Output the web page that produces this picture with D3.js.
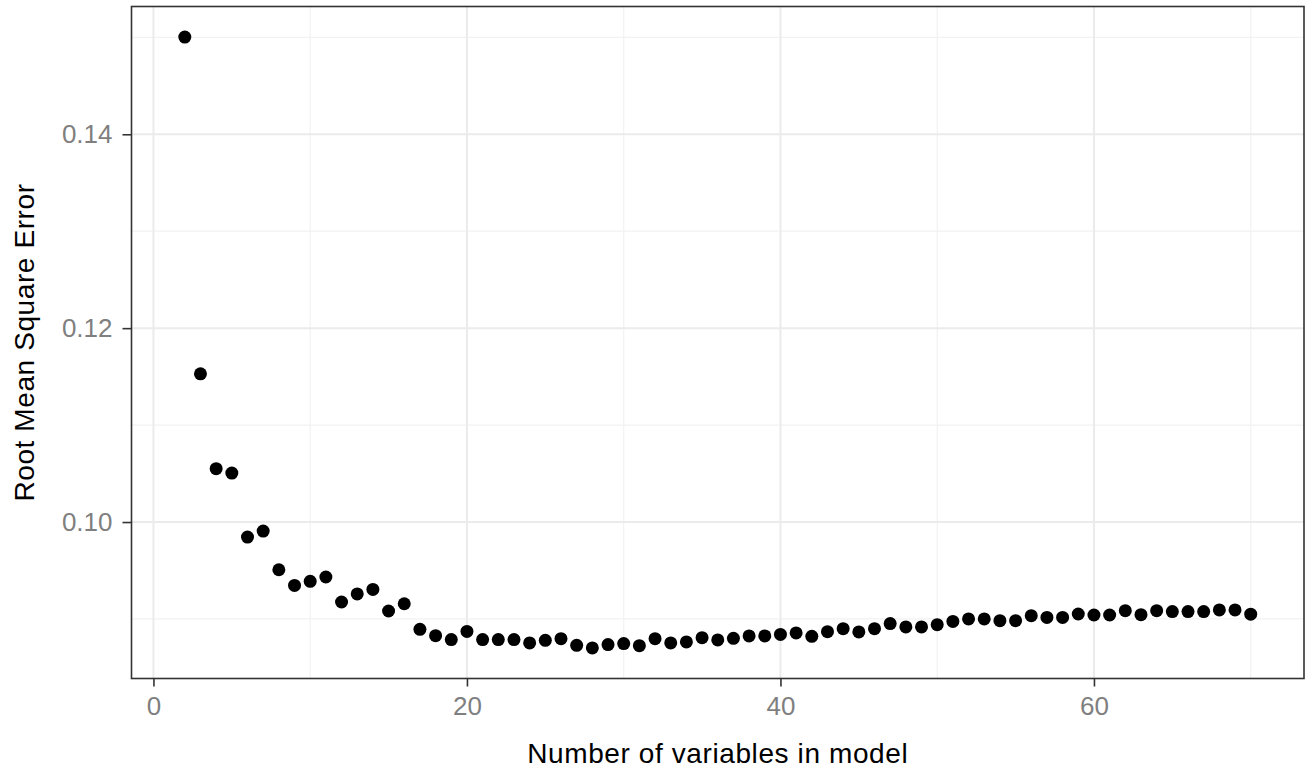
<!DOCTYPE html>
<html>
<head>
<meta charset="utf-8">
<script src="https://cdn.jsdelivr.net/npm/d3@7"></script>
<style>
  html, body { margin: 0; padding: 0; background: #fff; }
  svg { display: block; font-family: "Liberation Sans", Arial, sans-serif; }
</style>
</head>
<body>
<svg id="chart" width="1305" height="771"></svg>
<script>
// ---- data ----
const nVars = [2,3,4,5,6,7,8,9,10,11,12,13,14,15,16,17,18,19,20,21,22,23,24,25,26,27,28,29,30,31,32,33,34,35,36,37,38,39,40,41,42,43,44,45,46,47,48,49,50,51,52,53,54,55,56,57,58,59,60,61,62,63,64,65,66,67,68,69,70];
const rmse = [0.15003,0.11529,0.1055,0.10505,0.09845,0.09907,0.09508,0.09346,0.09388,0.09433,
  0.09175,0.09258,0.09305,0.09082,0.09157,0.08893,0.08828,0.08787,0.08872,0.08787,
  0.08787,0.08787,0.08753,0.0878,0.08797,0.08728,0.08701,0.08736,0.08746,0.08725,
  0.08797,0.08753,0.08763,0.08807,0.08784,0.088,0.08825,0.08825,0.08841,0.08856,
  0.08821,0.08869,0.089,0.08866,0.089,0.08952,0.08918,0.08918,0.08941,0.08975,
  0.09,0.09,0.08982,0.08982,0.09034,0.09016,0.09016,0.09051,0.09041,0.09041,
  0.09086,0.09044,0.09086,0.09076,0.09076,0.09076,0.09093,0.09093,0.09049];
const xTicks = [0, 20, 40, 60];
const xMinor = [10, 30, 50, 70];
const yTicks = [0.10, 0.12, 0.14];
const yMinor = [0.09, 0.11, 0.13, 0.15];
const xTitle = "Number of variables in model";
const yTitle = "Root Mean Square Error";

// ---- layout ----
const L = 131.5, R = 1304, T = 6.5, B = 678.5;
const svg = d3.select("#chart");

function expand(ext, f) { const d = (ext[1]-ext[0])*f; return [ext[0]-d, ext[1]+d]; }
const x = d3.scaleLinear().domain(expand(d3.extent(nVars), 0.05)).range([L, R]);
const y = d3.scaleLinear().domain(expand(d3.extent(rmse), 0.05)).range([B, T]);

svg.append("rect").attr("x", L).attr("y", T).attr("width", R-L).attr("height", B-T).attr("fill", "#fff");

// grid
const grid = svg.append("g");
grid.selectAll(".xminor").data(xMinor).join("line")
  .attr("x1", d => x(d)).attr("x2", d => x(d)).attr("y1", T).attr("y2", B)
  .attr("stroke", "#f2f2f2").attr("stroke-width", 1.2);
grid.selectAll(".yminor").data(yMinor).join("line")
  .attr("y1", d => y(d)).attr("y2", d => y(d)).attr("x1", L).attr("x2", R)
  .attr("stroke", "#f2f2f2").attr("stroke-width", 1.2);
grid.selectAll(".xmajor").data(xTicks).join("line")
  .attr("x1", d => x(d)).attr("x2", d => x(d)).attr("y1", T).attr("y2", B)
  .attr("stroke", "#ebebeb").attr("stroke-width", 2);
grid.selectAll(".ymajor").data(yTicks).join("line")
  .attr("y1", d => y(d)).attr("y2", d => y(d)).attr("x1", L).attr("x2", R)
  .attr("stroke", "#ebebeb").attr("stroke-width", 2);

// points
svg.append("g").selectAll("circle").data(nVars).join("circle")
  .attr("cx", (d) => x(d)).attr("cy", (d, i) => y(rmse[i]))
  .attr("r", 6.5).attr("fill", "#000");

// panel border
svg.append("rect").attr("x", L).attr("y", T).attr("width", R-L).attr("height", B-T)
  .attr("fill", "none").attr("stroke", "#333").attr("stroke-width", 1.6);

// axes
const xAxis = d3.axisBottom(x).tickValues(xTicks).tickFormat(d3.format("d")).tickSize(8).tickPadding(10);
const gx = svg.append("g").attr("transform", `translate(0,${B})`).call(xAxis);
gx.select(".domain").remove();
gx.selectAll(".tick line").attr("stroke", "#333").attr("stroke-width", 1.6);
gx.selectAll(".tick text").attr("fill", "#7f7f7f").style("font-size", "26px").attr("font-family", null);

const yAxis = d3.axisLeft(y).tickValues(yTicks).tickFormat(d3.format(".2f")).tickSize(9).tickPadding(10);
const gy = svg.append("g").attr("transform", `translate(${L},0)`).call(yAxis);
gy.select(".domain").remove();
gy.selectAll(".tick line").attr("stroke", "#333").attr("stroke-width", 1.6);
gy.selectAll(".tick text").attr("fill", "#7f7f7f").style("font-size", "26px").attr("font-family", null);

// titles
svg.append("text").attr("x", (L+R)/2).attr("y", 763)
  .attr("text-anchor", "middle").style("font-size", "28px").style("letter-spacing", "0.6px")
  .attr("fill", "#000").text(xTitle);
svg.append("text").attr("transform", `translate(34,${(T+B)/2}) rotate(-90)`)
  .attr("text-anchor", "middle").style("font-size", "28px").style("letter-spacing", "0.6px")
  .attr("fill", "#000").text(yTitle);
</script>
</body>
</html>
